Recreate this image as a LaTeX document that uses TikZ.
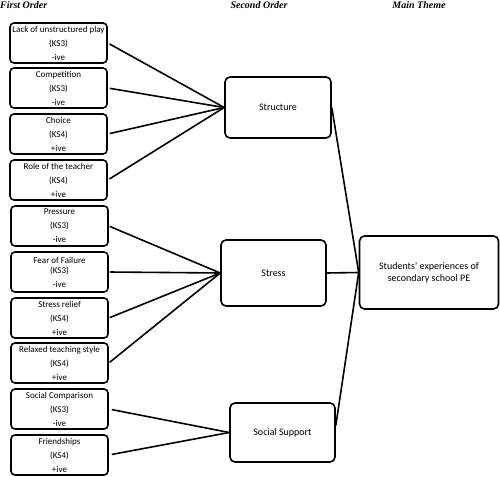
\documentclass[tikz,border=0pt]{standalone}
\usepackage{fontspec}
\setmainfont{Carlito}
\newfontfamily\hdr{Liberation Serif}
\begin{document}
\begin{tikzpicture}[x=1pt,y=-1pt,
  fo/.style={draw, line width=1.6pt, rounded corners=4pt, minimum width=97pt, minimum height=40pt, align=center, inner sep=0pt, font=\fontsize{9}{14}\selectfont},
  so/.style={draw, line width=1.6pt, rounded corners=5pt, minimum width=105pt, align=center, inner sep=0pt, font=\fontsize{10}{12}\selectfont},
  hd/.style={font=\hdr\bfseries\itshape\fontsize{10}{12}\selectfont, inner sep=0pt},
  ln/.style={line width=1.6pt}]
\useasboundingbox (0,0) rectangle (500,476);
% headers
\node[hd, anchor=west] (h1) at (0,5) {First Order};
\node[hd] (h2) at (259,5) {Second Order};
\node[hd] (h3) at (419,5) {Main Theme};
% first order
\node[fo] (b1) at (58.5,43) {Lack of unstructured play\\(KS3)\\-ive};
\node[fo] (b2) at (58.5,88) {Competition\\(KS3)\\-ive};
\node[fo] (b3) at (58.5,134) {Choice\\(KS4)\\+ive};
\node[fo] (b4) at (58.5,180) {Role of the teacher\\(KS4)\\+ive};
\node[fo] (b5) at (59.5,226) {Pressure\\(KS3)\\-ive};
\node[fo] (b6) at (59.5,272) {Fear of Failure\\[-4pt](KS3)\\-ive};
\node[fo] (b7) at (59.5,318) {Stress relief\\(KS4)\\+ive};
\node[fo] (b8) at (59.5,363) {Relaxed teaching style\\(KS4)\\+ive};
\node[fo] (b9) at (59.5,409) {Social Comparison\\(KS3)\\-ive};
\node[fo] (b10) at (59.5,455) {Friendships\\(KS4)\\+ive};
% second order
\node[so, minimum width=106pt, minimum height=61pt] (s1) at (278,107.5) {Structure};
\node[so, minimum height=66pt] (s2) at (273.5,273) {Stress};
\node[so, minimum height=59pt] (s3) at (282.5,432.5) {Social Support};
% main theme
\node[so, minimum width=139pt, minimum height=73pt] (m) at (429,272.5) {Students' experiences of\\secondary school PE};
% connectors
\foreach \b in {b1,b2,b3,b4} \draw[ln, shorten <=2pt] (\b.east) -- (s1.west);
\foreach \b in {b5,b6,b7,b8} \draw[ln, shorten <=1pt] (\b.east) -- (s2.west);
\foreach \b in {b9,b10} \draw[ln, shorten <=3pt] (\b.east) -- (s3.west);
\draw[ln] (s1.east) -- (m.west);
\draw[ln] (s2.east) -- (m.west);
\draw[ln] ([yshift=7pt]s3.east) -- (m.west);
\end{tikzpicture}
\end{document}
